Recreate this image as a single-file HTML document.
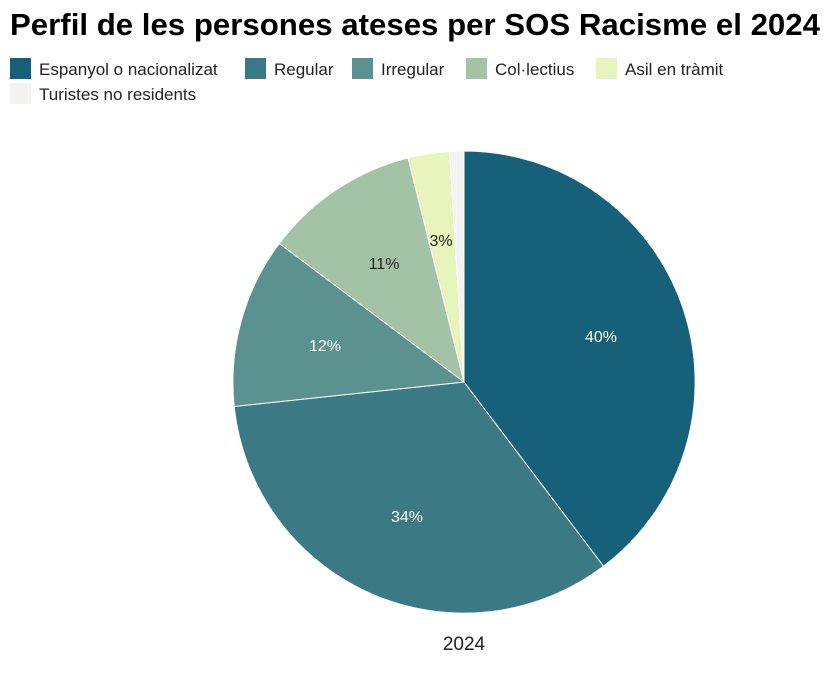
<!DOCTYPE html>
<html><head><meta charset="utf-8"><style>
body{margin:0;background:#fff;width:837px;height:675px;overflow:hidden;font-family:"Liberation Sans",sans-serif;}
</style></head><body>
<svg width="837" height="675" xmlns="http://www.w3.org/2000/svg" font-family="Liberation Sans, sans-serif">
<text x="10" y="35" font-size="31" font-weight="bold" fill="#000" textLength="810" lengthAdjust="spacingAndGlyphs">Perfil de les persones ateses per SOS Racisme el 2024</text>
<g font-size="17" fill="#222">
<rect x="10" y="58" width="21" height="21" fill="#16607a"/><text x="39" y="75">Espanyol o nacionalizat</text>
<rect x="245" y="58" width="21" height="21" fill="#3b7a85"/><text x="274" y="75">Regular</text>
<rect x="352" y="58" width="21" height="21" fill="#5b918f"/><text x="381" y="75">Irregular</text>
<rect x="466" y="58" width="21" height="21" fill="#a3c3a7"/><text x="495" y="75">Col·lectius</text>
<rect x="596" y="58" width="21" height="21" fill="#e8f4bb"/><text x="625" y="75">Asil en tràmit</text>
<rect x="10" y="83" width="21" height="21" fill="#f3f3f1"/><text x="39" y="100">Turistes no residents</text>
</g>
<g stroke="#fff" stroke-width="1">
<path d="M464,382 L464,151 A231,231 0 0 1 603.5,566.2 Z" fill="#16607a"/>
<path d="M464,382 L603.5,566.2 A231,231 0 0 1 234.2,406.5 Z" fill="#3b7a85"/>
<path d="M464,382 L234.2,406.5 A231,231 0 0 1 279.3,243.5 Z" fill="#5b918f"/>
<path d="M464,382 L279.3,243.5 A231,231 0 0 1 408.0,157.9 Z" fill="#a3c3a7"/>
<path d="M464,382 L408.0,157.9 A231,231 0 0 1 449.5,151.5 Z" fill="#e8f4bb"/>
<path d="M464,382 L449.5,151.5 A231,231 0 0 1 464,151 Z" fill="#f3f3f1"/>
</g>
<g font-size="16" text-anchor="middle">
<text x="601" y="342" fill="#fff">40%</text>
<text x="407" y="522" fill="#fff">34%</text>
<text x="325" y="351" fill="#fff">12%</text>
<text x="384" y="269" fill="#222">11%</text>
<text x="441" y="246" fill="#222">3%</text>
</g>
<text x="464" y="650" font-size="19" text-anchor="middle" fill="#222">2024</text>
</svg>
</body></html>
